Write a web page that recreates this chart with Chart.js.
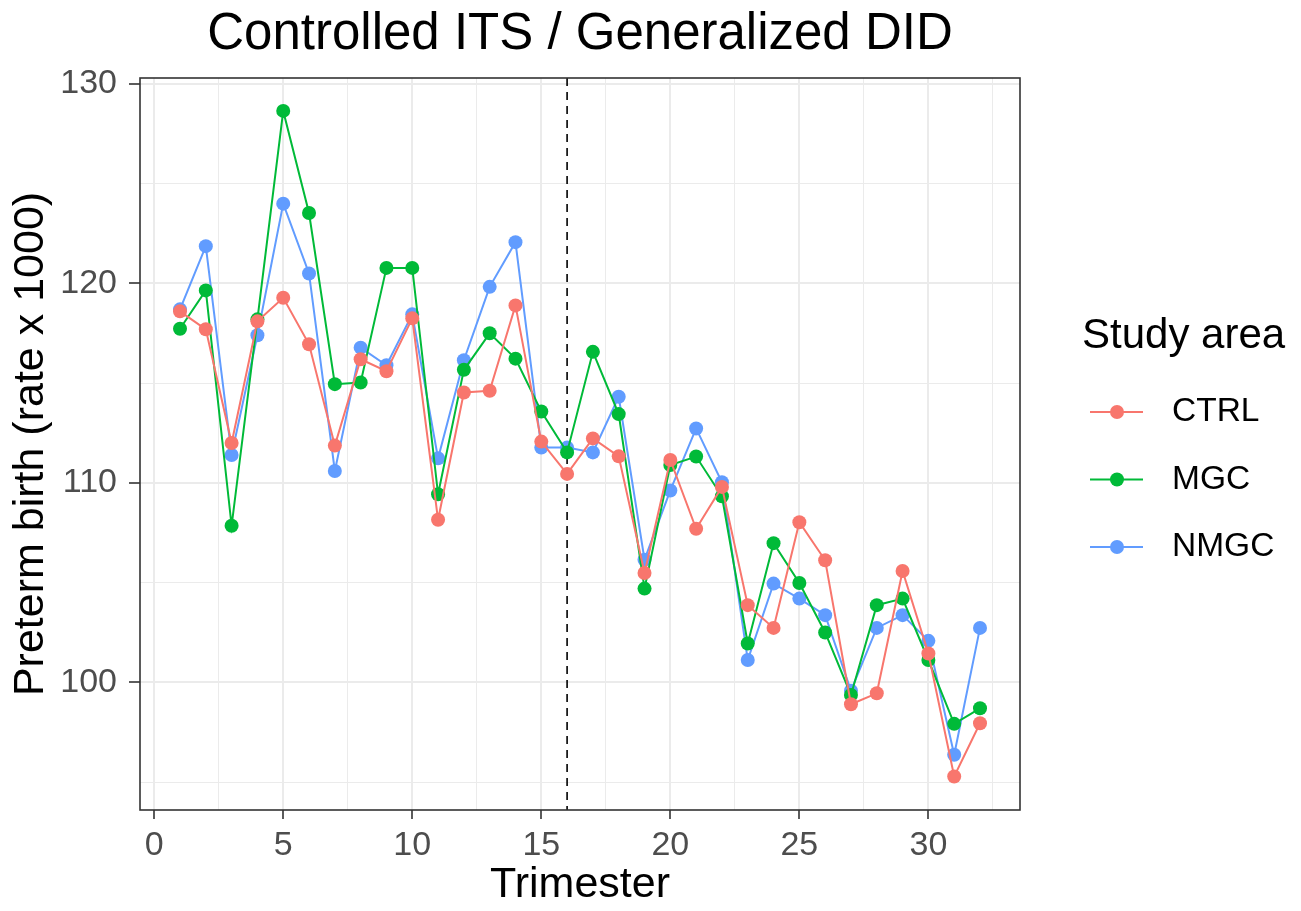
<!DOCTYPE html>
<html>
<head>
<meta charset="utf-8">
<script src="https://cdn.jsdelivr.net/npm/chart.js@4.4.1/dist/chart.umd.min.js"></script>
<style>
  html, body { margin: 0; padding: 0; background: #fff; }
  #wrap { width: 1301px; height: 911px; }
</style>
</head>
<body>
<div id="wrap"><canvas id="didChart" width="1301" height="911"></canvas></div>
<script>
const trimesters = [1, 2, 3, 4, 5, 6, 7, 8, 9, 10, 11, 12, 13, 14, 15, 16,
  17, 18, 19, 20, 21, 22, 23, 24, 25, 26, 27, 28, 29, 30, 31, 32];

const ctrl = [118.6, 117.7, 112.0, 118.1, 119.28, 116.95, 111.87, 116.2, 115.6, 118.25,
  108.15, 114.53, 114.62, 118.9, 112.07, 110.45, 112.23, 111.33, 105.48, 111.15,
  107.7, 109.8, 103.87, 102.73, 108.03, 106.12, 98.9, 99.45, 105.58, 101.45, 95.28, 97.95];
const mgc = [117.73, 119.65, 107.85, 118.2, 128.65, 123.53, 114.95, 115.03, 120.78, 120.78,
  109.43, 115.67, 117.5, 116.23, 113.58, 111.53, 116.57, 113.45, 104.7, 110.9,
  111.32, 109.33, 101.95, 106.98, 104.98, 102.5, 99.37, 103.87, 104.2, 101.12, 97.92, 98.7];
const nmgc = [118.7, 121.87, 111.4, 117.4, 124.0, 120.5, 110.6, 116.78, 115.9, 118.45,
  111.23, 116.15, 119.83, 122.07, 111.77, 111.77, 111.53, 114.32, 106.15, 109.62,
  112.73, 110.03, 101.12, 104.95, 104.2, 103.37, 99.58, 102.73, 103.37, 102.08, 96.37, 102.73];

const seriesNames = ['CTRL', 'MGC', 'NMGC'];
const seriesColors = ['#F8766D', '#00BA38', '#619CFF'];

const xMajor = [0, 5, 10, 15, 20, 25, 30];
const xMinor = [2.5, 7.5, 12.5, 17.5, 22.5, 27.5, 32.5];
const yMajor = [100, 110, 120, 130];
const yMinor = [95, 105, 115, 125];

const interventionAt = 16;

const FONT = 'Liberation Sans, Arial, sans-serif';

const toPoints = (ys) => trimesters.map((t, i) => ({ x: t, y: ys[i] }));

// panel border, dashed intervention line and the ggplot-style legend
const extras = {
  id: 'extras',
  beforeDatasetsDraw(chart) {
    const { ctx, chartArea: a, scales } = chart;
    const xv = scales.x.getPixelForValue(interventionAt);
    ctx.save();
    ctx.strokeStyle = '#000';
    ctx.lineWidth = 1.6;
    ctx.setLineDash([8, 6]);
    ctx.beginPath();
    ctx.moveTo(xv, a.top);
    ctx.lineTo(xv, a.bottom);
    ctx.stroke();
    ctx.restore();
  },
  afterDraw(chart) {
    const { ctx, chartArea: a } = chart;
    ctx.save();
    ctx.strokeStyle = '#333333';
    ctx.lineWidth = 1.6;
    ctx.strokeRect(a.left, a.top, a.right - a.left, a.bottom - a.top);

    const lx = a.right + 62;
    ctx.fillStyle = '#000';
    ctx.font = '42px ' + FONT;
    ctx.textBaseline = 'alphabetic';
    ctx.textAlign = 'left';
    ctx.fillText('Study area', lx, 348);

    ctx.font = '33.5px ' + FONT;
    ctx.textBaseline = 'middle';
    seriesNames.forEach((name, i) => {
      const y = 412 + i * 67.5;
      ctx.strokeStyle = seriesColors[i];
      ctx.lineWidth = 2;
      ctx.beginPath();
      ctx.moveTo(a.right + 70, y);
      ctx.lineTo(a.right + 123, y);
      ctx.stroke();
      ctx.fillStyle = seriesColors[i];
      ctx.beginPath();
      ctx.arc(a.right + 97, y, 7, 0, Math.PI * 2);
      ctx.fill();
      ctx.fillStyle = '#000';
      ctx.fillText(name, a.right + 152, y);
    });
    ctx.restore();
  }
};

const ctx = document.getElementById('didChart').getContext('2d');

new Chart(ctx, {
  type: 'line',
  data: {
    datasets: seriesNames.map((name, i) => ({
      label: name,
      data: toPoints([ctrl, mgc, nmgc][i]),
      borderColor: seriesColors[i],
      backgroundColor: seriesColors[i],
      borderWidth: 2,
      pointRadius: 7,
      pointBorderWidth: 0,
      pointHoverRadius: 7,
      tension: 0
    }))
  },
  options: {
    responsive: false,
    animation: false,
    layout: { padding: { left: 0, right: 281, top: 0, bottom: 0 } },
    scales: {
      x: {
        type: 'linear',
        min: -0.55,
        max: 33.55,
        afterBuildTicks: (scale) => {
          scale.ticks = xMajor.concat(xMinor).sort((a, b) => a - b).map(v => ({ value: v }));
        },
        afterFit: (scale) => { scale.height = 101; },
        border: { display: false },
        grid: {
          color: '#EBEBEB',
          lineWidth: (c) => xMajor.includes(c.tick.value) ? 2 : 1,
          tickColor: (c) => xMajor.includes(c.tick.value) ? '#333333' : 'rgba(0,0,0,0)',
          tickWidth: 1.6,
          tickLength: 9
        },
        ticks: {
          autoSkip: false,
          maxRotation: 0,
          padding: 6,
          color: '#4D4D4D',
          font: { family: FONT, size: 34 },
          callback: (v) => xMajor.includes(v) ? String(v) : ''
        },
        title: {
          display: true,
          text: 'Trimester',
          color: '#000',
          font: { family: FONT, size: 43 },
          padding: { top: 0, bottom: 0 }
        }
      },
      y: {
        min: 93.6,
        max: 130.3,
        afterBuildTicks: (scale) => {
          scale.ticks = yMajor.concat(yMinor).sort((a, b) => a - b).map(v => ({ value: v }));
        },
        afterFit: (scale) => { scale.width = 140; },
        border: { display: false },
        grid: {
          color: '#EBEBEB',
          lineWidth: (c) => yMajor.includes(c.tick.value) ? 2 : 1,
          tickColor: (c) => yMajor.includes(c.tick.value) ? '#333333' : 'rgba(0,0,0,0)',
          tickWidth: 1.6,
          tickLength: 11
        },
        ticks: {
          autoSkip: false,
          padding: 12,
          color: '#4D4D4D',
          font: { family: FONT, size: 34 },
          callback: (v) => yMajor.includes(v) ? String(v) : ''
        },
        title: {
          display: true,
          text: 'Preterm birth (rate x 1000)',
          color: '#000',
          font: { family: FONT, size: 43 },
          padding: { top: 5, bottom: 0 }
        }
      }
    },
    plugins: {
      legend: { display: false },
      tooltip: { enabled: false },
      title: {
        display: true,
        fullSize: false,
        text: 'Controlled ITS / Generalized DID',
        color: '#000',
        font: { family: FONT, size: 51, weight: 'normal' },
        padding: { top: 4.4, bottom: 12.4 }
      }
    }
  },
  plugins: [extras]
});
</script>
</body>
</html>
